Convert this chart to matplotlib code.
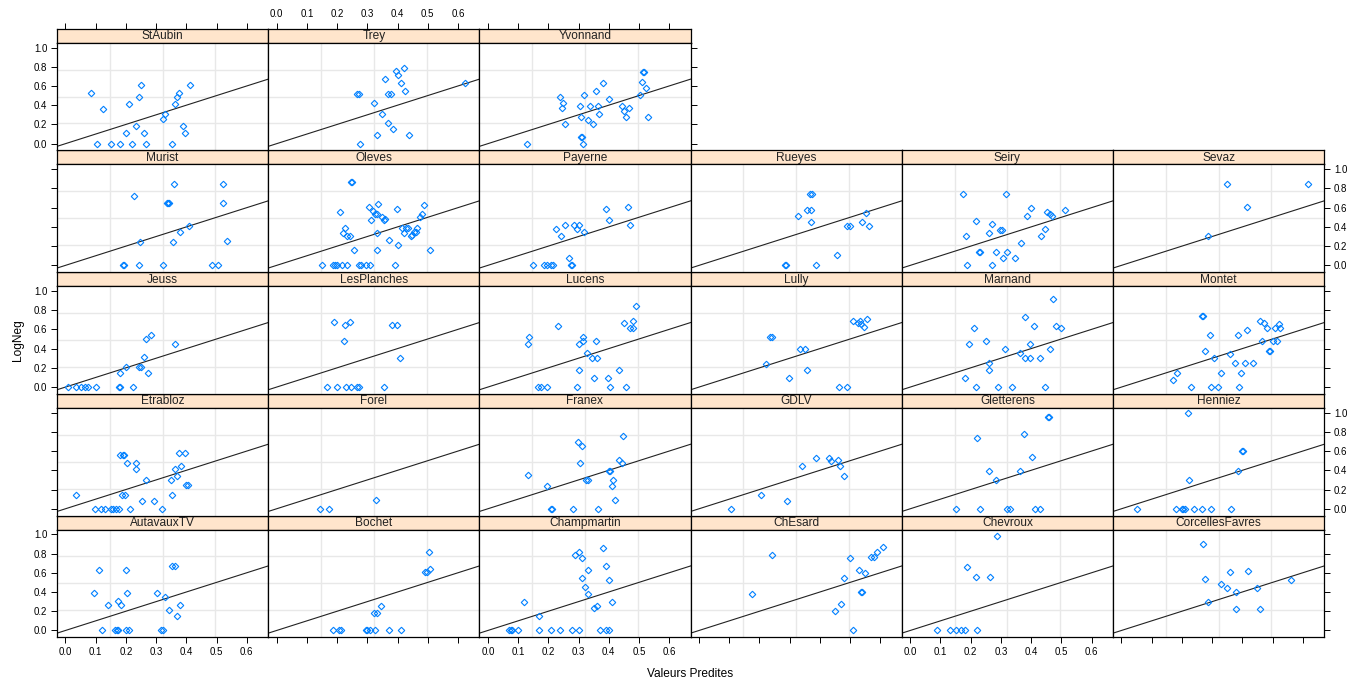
import matplotlib.pyplot as plt

plt.rcParams['font.family'] = ['Liberation Sans', 'DejaVu Sans']

# sites, ordered as lattice fills panels: bottom-left first, row by row upward
sites = ["AutavauxTV", "Bochet", "Champmartin", "ChEsard", "Chevroux", "CorcellesFavres",
         "Etrabloz", "Forel", "Franex", "GDLV", "Gletterens", "Henniez",
         "Jeuss", "LesPlanches", "Lucens", "Lully", "Marnand", "Montet",
         "Murist", "Oleves", "Payerne", "Rueyes", "Seiry", "Sevaz",
         "StAubin", "Trey", "Yvonnand"]

# predicted values (x) and observed LogNeg (y) for each site
x_autavaux = [0.093, 0.110, 0.120, 0.142, 0.164, 0.171, 0.175, 0.173, 0.183, 0.199, 0.210,
              0.200, 0.203, 0.304, 0.316, 0.322, 0.331, 0.342, 0.353, 0.361, 0.368, 0.379]
y_autavaux = [0.390, 0.627, 0.0, 0.265, 0.0, 0.0, 0.0, 0.307, 0.265, 0.0, 0.0,
              0.627, 0.390, 0.390, 0.0, 0.0, 0.348, 0.213, 0.672, 0.672, 0.150, 0.265]
x_bochet = [0.186, 0.206, 0.212, 0.295, 0.300, 0.310, 0.326, 0.372, 0.410,
            0.323, 0.332, 0.346, 0.490, 0.497, 0.508, 0.503]
y_bochet = [0.0, 0.0, 0.0, 0.0, 0.0, 0.0, 0.0, 0.0, 0.0,
            0.181, 0.181, 0.254, 0.606, 0.606, 0.641, 0.819]
x_champmartin = [0.070, 0.075, 0.080, 0.100, 0.170, 0.210, 0.240, 0.280, 0.300, 0.370, 0.390,
                 0.400, 0.120, 0.170, 0.290, 0.300, 0.310, 0.310, 0.320, 0.330, 0.350, 0.360,
                 0.380, 0.390, 0.400, 0.410, 0.330]
y_champmartin = [0.0, 0.0, 0.0, 0.0, 0.0, 0.0, 0.0, 0.0, 0.0, 0.0, 0.0,
                 0.0, 0.300, 0.150, 0.780, 0.820, 0.750, 0.550, 0.450, 0.630, 0.230, 0.250,
                 0.860, 0.670, 0.520, 0.300, 0.380]
x_chesard = [0.175, 0.240, 0.450, 0.470, 0.480, 0.510, 0.500, 0.540, 0.535, 0.550, 0.570,
             0.580, 0.590, 0.610, 0.530]
y_chesard = [0.380, 0.780, 0.200, 0.280, 0.550, 0.0, 0.750, 0.400, 0.400, 0.600, 0.760,
             0.760, 0.820, 0.870, 0.630]
x_chevroux = [0.090, 0.130, 0.150, 0.167, 0.180, 0.220, 0.187, 0.217, 0.263, 0.286]
y_chevroux = [0.0, 0.0, 0.0, 0.0, 0.0, 0.0, 0.660, 0.560, 0.560, 0.980]
x_corcelles = [0.270, 0.275, 0.285, 0.330, 0.350, 0.360, 0.380, 0.380, 0.420, 0.450, 0.460, 0.560]
y_corcelles = [0.900, 0.540, 0.300, 0.480, 0.440, 0.610, 0.400, 0.220, 0.620, 0.440, 0.220, 0.530]
x_etrabloz = [0.034, 0.097, 0.116, 0.132, 0.150, 0.156, 0.167, 0.177, 0.213, 0.321, 0.180,
              0.189, 0.193, 0.205, 0.233, 0.233, 0.188, 0.196, 0.253, 0.292, 0.266, 0.348,
              0.352, 0.361, 0.369, 0.382, 0.377, 0.395, 0.398, 0.405]
y_etrabloz = [0.145, 0.0, 0.0, 0.0, 0.0, 0.0, 0.0, 0.0, 0.0, 0.0, 0.560,
              0.560, 0.560, 0.480, 0.480, 0.411, 0.145, 0.145, 0.083, 0.083, 0.297, 0.297,
              0.145, 0.411, 0.339, 0.446, 0.580, 0.580, 0.245, 0.245]
x_forel = [0.143, 0.173, 0.329]
y_forel = [0.0, 0.0, 0.090]
x_franex = [0.134, 0.197, 0.208, 0.211, 0.281, 0.298, 0.313, 0.305, 0.325, 0.331, 0.364,
            0.402, 0.404, 0.410, 0.415, 0.421, 0.435, 0.445, 0.446]
y_franex = [0.352, 0.235, 0.0, 0.0, 0.0, 0.691, 0.653, 0.477, 0.301, 0.301, 0.0,
            0.394, 0.394, 0.235, 0.301, 0.093, 0.504, 0.477, 0.756]
x_gdlv = [0.107, 0.206, 0.290, 0.342, 0.388, 0.429, 0.438, 0.459, 0.467, 0.479]
y_gdlv = [0.0, 0.142, 0.083, 0.442, 0.525, 0.525, 0.501, 0.504, 0.442, 0.339]
x_gletterens = [0.153, 0.231, 0.320, 0.329, 0.413, 0.431, 0.221, 0.261, 0.285, 0.363, 0.378,
                0.404, 0.456, 0.458]
y_gletterens = [0.0, 0.0, 0.0, 0.0, 0.0, 0.0, 0.736, 0.394, 0.297, 0.394, 0.777,
                0.539, 0.953, 0.953]
x_henniez = [0.050, 0.181, 0.200, 0.204, 0.209, 0.241, 0.267, 0.298, 0.361, 0.219, 0.223,
             0.387, 0.400, 0.402]
y_henniez = [0.0, 0.0, 0.0, 0.0, 0.0, 0.0, 0.0, 0.0, 0.0, 0.991, 0.301,
             0.394, 0.601, 0.601]
x_jeuss = [0.008, 0.034, 0.050, 0.066, 0.075, 0.100, 0.177, 0.181, 0.222, 0.180, 0.199,
           0.244, 0.249, 0.259, 0.273, 0.265, 0.283, 0.362]
y_jeuss = [0.0, 0.0, 0.0, 0.0, 0.0, 0.0, 0.0, 0.0, 0.0, 0.150, 0.206,
           0.206, 0.206, 0.310, 0.150, 0.505, 0.540, 0.453]
x_lesplanches = [0.167, 0.199, 0.231, 0.247, 0.266, 0.273, 0.354, 0.189, 0.225, 0.242, 0.222,
                 0.383, 0.399, 0.408]
y_lesplanches = [0.0, 0.0, 0.0, 0.0, 0.0, 0.0, 0.0, 0.672, 0.641, 0.672, 0.484,
                 0.641, 0.641, 0.307]
x_lucens = [0.166, 0.176, 0.197, 0.296, 0.405, 0.457, 0.134, 0.137, 0.233, 0.302, 0.301,
            0.316, 0.316, 0.328, 0.344, 0.362, 0.359, 0.352, 0.398, 0.433, 0.451, 0.472,
            0.479, 0.481, 0.491]
y_lucens = [0.0, 0.0, 0.0, 0.0, 0.0, 0.0, 0.443, 0.516, 0.631, 0.181, 0.443,
            0.519, 0.484, 0.359, 0.307, 0.307, 0.484, 0.098, 0.098, 0.181, 0.666, 0.613,
            0.613, 0.690, 0.840]
x_lully = [0.222, 0.235, 0.241, 0.299, 0.335, 0.350, 0.358, 0.463, 0.489, 0.511, 0.525,
           0.533, 0.536, 0.546, 0.555]
y_lully = [0.244, 0.519, 0.519, 0.098, 0.401, 0.401, 0.181, 0.0, 0.0, 0.686, 0.669,
           0.686, 0.655, 0.627, 0.707]
x_marnand = [0.182, 0.217, 0.289, 0.336, 0.446, 0.196, 0.212, 0.250, 0.259, 0.262, 0.313,
             0.364, 0.381, 0.381, 0.396, 0.396, 0.408, 0.430, 0.462, 0.473, 0.484, 0.498]
y_marnand = [0.098, 0.0, 0.0, 0.0, 0.0, 0.443, 0.613, 0.484, 0.181, 0.251, 0.401,
             0.359, 0.725, 0.307, 0.307, 0.443, 0.631, 0.307, 0.401, 0.916, 0.631, 0.610]
x_montet = [0.170, 0.184, 0.230, 0.268, 0.271, 0.277, 0.294, 0.298, 0.307, 0.320, 0.331,
            0.359, 0.375, 0.385, 0.389, 0.394, 0.408, 0.415, 0.435, 0.460, 0.464, 0.473,
            0.482, 0.489, 0.493, 0.500, 0.508, 0.514, 0.520, 0.526]
y_montet = [0.077, 0.150, 0.0, 0.739, 0.739, 0.380, 0.540, 0.0, 0.307, 0.0, 0.150,
            0.348, 0.251, 0.540, 0.0, 0.150, 0.251, 0.589, 0.251, 0.690, 0.484, 0.669,
            0.613, 0.380, 0.380, 0.484, 0.613, 0.484, 0.655, 0.610]
x_murist = [0.190, 0.193, 0.245, 0.322, 0.485, 0.504, 0.228, 0.248, 0.355, 0.378, 0.408,
            0.337, 0.341, 0.344, 0.358, 0.523, 0.522, 0.534]
y_murist = [0.0, 0.0, 0.0, 0.0, 0.0, 0.0, 0.725, 0.245, 0.245, 0.352, 0.408,
            0.653, 0.653, 0.653, 0.850, 0.850, 0.653, 0.249]
x_oleves = [0.247, 0.249, 0.208, 0.150, 0.185, 0.192, 0.200, 0.215, 0.232, 0.272, 0.278,
            0.295, 0.308, 0.392, 0.225, 0.219, 0.234, 0.244, 0.257, 0.331, 0.333, 0.307,
            0.313, 0.318, 0.325, 0.332, 0.336, 0.348, 0.354, 0.357, 0.373, 0.397, 0.403,
            0.416, 0.423, 0.428, 0.436, 0.445, 0.455, 0.460, 0.464, 0.448, 0.473, 0.482,
            0.488, 0.507]
y_oleves = [0.870, 0.870, 0.560, 0.0, 0.0, 0.0, 0.0, 0.0, 0.0, 0.0, 0.0,
            0.0, 0.0, 0.0, 0.387, 0.339, 0.304, 0.304, 0.155, 0.155, 0.339, 0.611,
            0.477, 0.566, 0.539, 0.535, 0.642, 0.508, 0.477, 0.480, 0.259, 0.584, 0.207,
            0.387, 0.339, 0.387, 0.387, 0.304, 0.345, 0.345, 0.387, 0.311, 0.508, 0.535,
            0.632, 0.155]
x_payerne = [0.150, 0.185, 0.196, 0.208, 0.214, 0.275, 0.279, 0.268, 0.225, 0.243, 0.256,
             0.285, 0.294, 0.300, 0.318, 0.392, 0.402, 0.465, 0.471]
y_payerne = [0.0, 0.0, 0.0, 0.0, 0.0, 0.0, 0.0, 0.079, 0.383, 0.304, 0.415,
             0.415, 0.383, 0.415, 0.342, 0.584, 0.477, 0.611, 0.415]
x_rueyes = [0.285, 0.289, 0.386, 0.458, 0.368, 0.373, 0.329, 0.356, 0.370, 0.369, 0.489,
            0.500, 0.539, 0.554, 0.562]
y_rueyes = [0.0, 0.0, 0.0, 0.104, 0.746, 0.746, 0.518, 0.580, 0.580, 0.446, 0.408,
            0.408, 0.446, 0.549, 0.408]
x_seiry = [0.173, 0.318, 0.189, 0.272, 0.183, 0.219, 0.228, 0.232, 0.259, 0.270, 0.298,
           0.303, 0.285, 0.308, 0.321, 0.345, 0.365, 0.387, 0.398, 0.434, 0.447, 0.454,
           0.463, 0.468, 0.511]
y_seiry = [0.737, 0.737, 0.0, 0.0, 0.304, 0.457, 0.135, 0.135, 0.339, 0.433, 0.370,
           0.370, 0.135, 0.073, 0.135, 0.073, 0.228, 0.509, 0.595, 0.304, 0.374, 0.554,
           0.536, 0.509, 0.571]
x_sevaz = [0.288, 0.348, 0.414, 0.619]
y_sevaz = [0.304, 0.851, 0.612, 0.851]
x_staubin = [0.083, 0.124, 0.104, 0.150, 0.179, 0.220, 0.266, 0.352, 0.202, 0.235, 0.260,
             0.210, 0.243, 0.250, 0.322, 0.331, 0.361, 0.368, 0.376, 0.388, 0.396, 0.412]
y_staubin = [0.526, 0.356, 0.0, 0.0, 0.0, 0.0, 0.0, 0.0, 0.111, 0.180, 0.107,
             0.412, 0.481, 0.606, 0.253, 0.304, 0.408, 0.481, 0.522, 0.180, 0.107, 0.609]
x_trey = [0.267, 0.273, 0.275, 0.322, 0.331, 0.347, 0.357, 0.367, 0.370, 0.379, 0.384,
          0.396, 0.403, 0.413, 0.420, 0.426, 0.437, 0.622]
y_trey = [0.512, 0.512, 0.0, 0.419, 0.087, 0.304, 0.668, 0.211, 0.512, 0.512, 0.149,
          0.751, 0.709, 0.626, 0.782, 0.543, 0.087, 0.626]
x_yvonnand = [0.131, 0.238, 0.249, 0.246, 0.256, 0.304, 0.309, 0.307, 0.310, 0.315, 0.318,
              0.331, 0.338, 0.348, 0.357, 0.365, 0.368, 0.380, 0.401, 0.444, 0.449, 0.456,
              0.467, 0.503, 0.509, 0.512, 0.518, 0.523, 0.530]
y_yvonnand = [0.0, 0.481, 0.422, 0.370, 0.201, 0.388, 0.277, 0.069, 0.069, 0.0, 0.505,
              0.242, 0.388, 0.201, 0.547, 0.388, 0.304, 0.630, 0.460, 0.388, 0.339, 0.273,
              0.370, 0.502, 0.640, 0.744, 0.744, 0.578, 0.277]

xs = [x_autavaux, x_bochet, x_champmartin, x_chesard, x_chevroux, x_corcelles,
      x_etrabloz, x_forel, x_franex, x_gdlv, x_gletterens, x_henniez,
      x_jeuss, x_lesplanches, x_lucens, x_lully, x_marnand, x_montet,
      x_murist, x_oleves, x_payerne, x_rueyes, x_seiry, x_sevaz,
      x_staubin, x_trey, x_yvonnand]
ys = [y_autavaux, y_bochet, y_champmartin, y_chesard, y_chevroux, y_corcelles,
      y_etrabloz, y_forel, y_franex, y_gdlv, y_gletterens, y_henniez,
      y_jeuss, y_lesplanches, y_lucens, y_lully, y_marnand, y_montet,
      y_murist, y_oleves, y_payerne, y_rueyes, y_seiry, y_sevaz,
      y_staubin, y_trey, y_yvonnand]

xticks = [0.0, 0.1, 0.2, 0.3, 0.4, 0.5, 0.6]
yticks = [0.0, 0.2, 0.4, 0.6, 0.8, 1.0]
xlim = (-0.028, 0.671)
ylim = (-0.07, 1.05)

W, H = 1361, 684
fig = plt.figure(figsize=(W / 100, H / 100), dpi=100)

# panel geometry in pixels
left0, col_w = 57, 211.2
top0, row_h, strip_h = 28.7, 121.7, 14.0
panel_h = row_h - strip_h
ncol, nrow = 6, 5

strip_col = '#ffe5cc'
pt_col = '#0080ff'
grid_col = '#e8e8e8'


def px_axes(x, y_top, w, h):
    return fig.add_axes([x / W, 1 - (y_top + h) / H, w / W, h / H])


def style_ticks(ax):
    ax.tick_params(direction='out', length=4, width=0.7, labelsize=7, pad=3)
    for s in ax.spines.values():
        s.set_linewidth(0.9)


for i, name in enumerate(sites):
    col = i % ncol
    r = nrow - 1 - i // ncol
    x = left0 + col * col_w
    yt = top0 + r * row_h

    # strip
    sax = px_axes(x, yt, col_w, strip_h)
    sax.set_facecolor(strip_col)
    sax.set_xlim(xlim)
    sax.set_yticks([])
    sax.text(0.5, 0.45, name, transform=sax.transAxes, ha='center', va='center',
             fontsize=8.6, color='#222222')
    style_ticks(sax)
    if r == 0:
        sax.xaxis.set_ticks_position('top')
        sax.set_xticks(xticks)
        if col == 1:
            sax.xaxis.set_tick_params(labeltop=True)
        else:
            sax.set_xticklabels([])
    else:
        sax.set_xticks([])

    # panel
    ax = px_axes(x, yt + strip_h, col_w, panel_h)
    ax.set_xlim(xlim)
    ax.set_ylim(ylim)
    style_ticks(ax)
    for k in (1, 2, 3):
        ax.axvline(xlim[0] + k * (xlim[1] - xlim[0]) / 4, color=grid_col, lw=1, zorder=0)
        ax.axhline(ylim[0] + k * (ylim[1] - ylim[0]) / 4, color=grid_col, lw=1, zorder=0)
    ax.plot(xlim, xlim, color='#222222', lw=0.8, zorder=1)
    ax.plot(xs[i], ys[i], 'D', ms=3.3, mfc='none', mec=pt_col, mew=0.8, zorder=2)

    # x axis only along the bottom row
    if r == nrow - 1:
        ax.set_xticks(xticks)
        if col % 2 == 0:
            ax.set_xticklabels([f"{v:.1f}" for v in xticks])
        else:
            ax.set_xticklabels([])
    else:
        ax.set_xticks([])

    # y axis on the outer panels, labels alternating sides
    last_col = (col == ncol - 1) or (r == 0 and col == 2)
    if col == 0 or last_col:
        ax.set_yticks(yticks)
        ax.yaxis.set_ticks_position('left' if col == 0 else 'right')
        ax.yaxis.set_tick_params(labelleft=False, labelright=False)
        if col == 0 and r % 2 == 0:
            ax.yaxis.set_tick_params(labelleft=True)
            ax.set_yticklabels([f"{v:.1f}" for v in yticks])
        if last_col and r % 2 == 1:
            ax.yaxis.set_tick_params(labelright=True)
            ax.set_yticklabels([f"{v:.1f}" for v in yticks])
    else:
        ax.set_yticks([])

fig.text(690 / W, 1 - 674 / H, 'Valeurs Predites', ha='center', va='center', fontsize=8.6)
fig.text(18 / W, 1 - 340 / H, 'LogNeg', ha='center', va='center', fontsize=8.6, rotation=90)

fig.savefig('out.png', dpi=100)
